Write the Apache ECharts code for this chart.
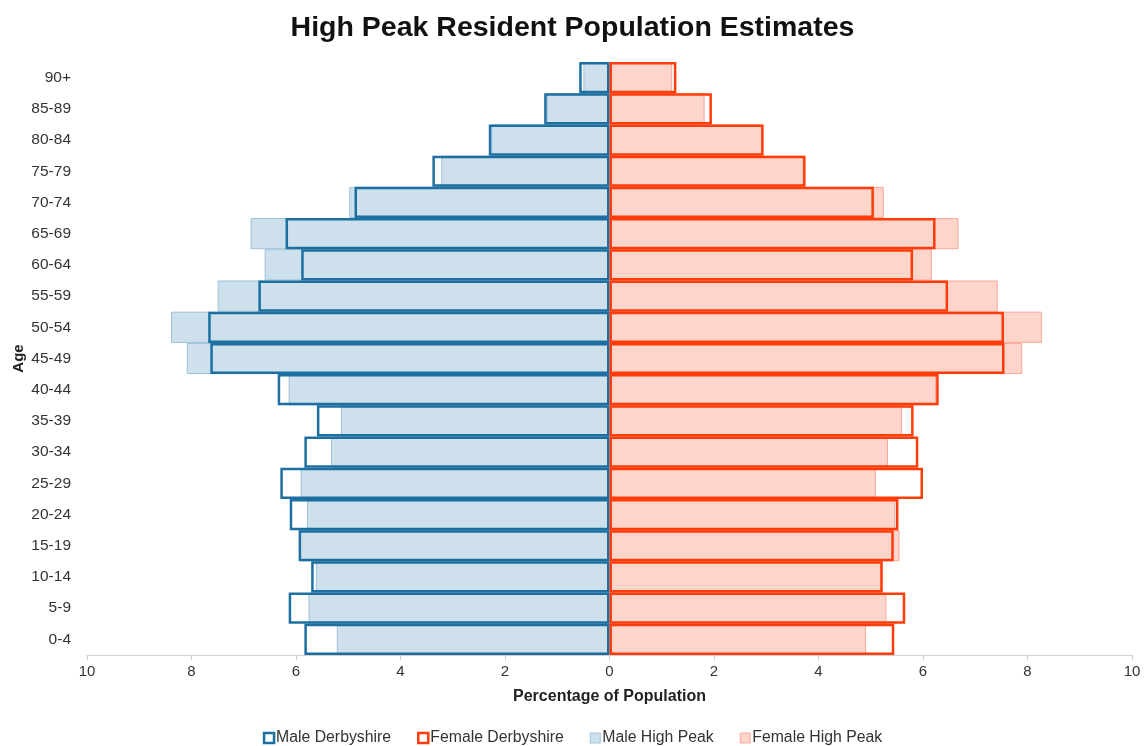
<!DOCTYPE html>
<html>
<head>
<meta charset="utf-8">
<script src="https://cdn.jsdelivr.net/npm/echarts@6/dist/echarts.min.js"></script>
<style>html,body{margin:0;padding:0;background:#fff;}#c{width:1145px;height:746px;}</style>
</head>
<body>
<div id="c"></div>
<script>
const ageGroups = ['0-4','5-9','10-14','15-19','20-24','25-29','30-34','35-39','40-44','45-49','50-54','55-59','60-64','65-69','70-74','75-79','80-84','85-89','90+'];
const maleDerbyshire   = [5.84,6.14,5.71,5.95,6.12,6.30,5.84,5.60,6.35,7.64,7.68,6.72,5.90,6.20,4.88,3.39,2.31,1.25,0.58];
const femaleDerbyshire = [5.45,5.66,5.23,5.44,5.53,6.00,5.91,5.82,6.30,7.56,7.55,6.48,5.81,6.24,5.06,3.75,2.95,1.96,1.28];
const maleHighPeak     = [5.22,5.76,5.62,5.93,5.79,5.91,5.33,5.14,6.14,8.09,8.39,7.50,6.60,6.87,4.98,3.22,2.26,1.20,0.50];
const femaleHighPeak   = [4.91,5.30,5.20,5.55,5.47,5.10,5.33,5.60,6.25,7.90,8.28,7.43,6.17,6.68,5.25,3.75,2.92,1.82,1.20];
const xTicks = {min:-10, max:10, interval:2};

const FONT = '"Liberation Sans", Arial, sans-serif';
const neg = a => a.map(v => -v);
const chart = echarts.init(document.getElementById('c'), null, {renderer:'canvas'});
const base = {type:'bar', barGap:'-100%', barCategoryGap:'0%', animation:false};
chart.setOption({
  animation:false,
  title:{text:'High Peak Resident Population Estimates', left:'center', top:9,
    textStyle:{fontFamily:FONT, fontSize:28.5, fontWeight:'bold', color:'#111'}},
  legend:{top:730, left:'center', padding:0, itemWidth:10, itemHeight:10, itemGap:26,
    textStyle:{fontFamily:FONT, fontSize:15.8, color:'#333', padding:[0,0,0,-3]},
    data:[
      {name:'Male Derbyshire', icon:'rect', itemStyle:{color:'#fff', borderColor:'#1c6fa0', borderWidth:2.5}},
      {name:'Female Derbyshire', icon:'rect', itemStyle:{color:'#fff', borderColor:'#ff3c0a', borderWidth:2.5}},
      {name:'Male High Peak', icon:'rect', itemStyle:{color:'#cde0eb', borderColor:'#9cc1d8', borderWidth:1}},
      {name:'Female High Peak', icon:'rect', itemStyle:{color:'#fdd5cb', borderColor:'#f7a99a', borderWidth:1}}
    ]},
  grid:{left:87, right:13, top:62, bottom:91, containLabel:false, outerBoundsMode:'none'},
  xAxis:{type:'value', min:xTicks.min, max:xTicks.max, interval:xTicks.interval,
    name:'Percentage of Population', nameLocation:'middle', nameGap:34, nameMoveOverlap:false,
    nameTextStyle:{fontFamily:FONT, fontSize:16, fontWeight:'bold', color:'#222'},
    axisLine:{show:true, lineStyle:{color:'#d0d0d0', width:1}},
    axisTick:{show:true, length:5, lineStyle:{color:'#d0d0d0'}},
    splitLine:{show:false},
    axisLabel:{fontFamily:FONT, fontSize:15, color:'#333', margin:9, formatter:v=>Math.abs(v)}},
  yAxis:{type:'category', data:ageGroups,
    name:'Age', nameLocation:'middle', nameGap:61, nameRotate:90, nameMoveOverlap:false,
    nameTextStyle:{fontFamily:FONT, fontSize:15, fontWeight:'bold', color:'#222'},
    axisLine:{show:false}, axisTick:{show:false},
    axisLabel:{fontFamily:FONT, fontSize:15.5, color:'#333', margin:16}},
  series:[
    Object.assign({}, base, {name:'Male High Peak', data:neg(maleHighPeak), z:2,
      itemStyle:{color:'#cde0eb', borderColor:'#9cc1d8', borderWidth:1}}),
    Object.assign({}, base, {name:'Female High Peak', data:femaleHighPeak, z:2,
      itemStyle:{color:'#fdd5cb', borderColor:'#f7a99a', borderWidth:1}}),
    Object.assign({}, base, {name:'Male Derbyshire', data:neg(maleDerbyshire), z:3,
      itemStyle:{color:'rgba(0,0,0,0)', borderColor:'#1c6fa0', borderWidth:2.5}}),
    Object.assign({}, base, {name:'Female Derbyshire', data:femaleDerbyshire, z:3,
      itemStyle:{color:'rgba(0,0,0,0)', borderColor:'#ff3c0a', borderWidth:2.5}})
  ]
});
</script>
</body>
</html>
